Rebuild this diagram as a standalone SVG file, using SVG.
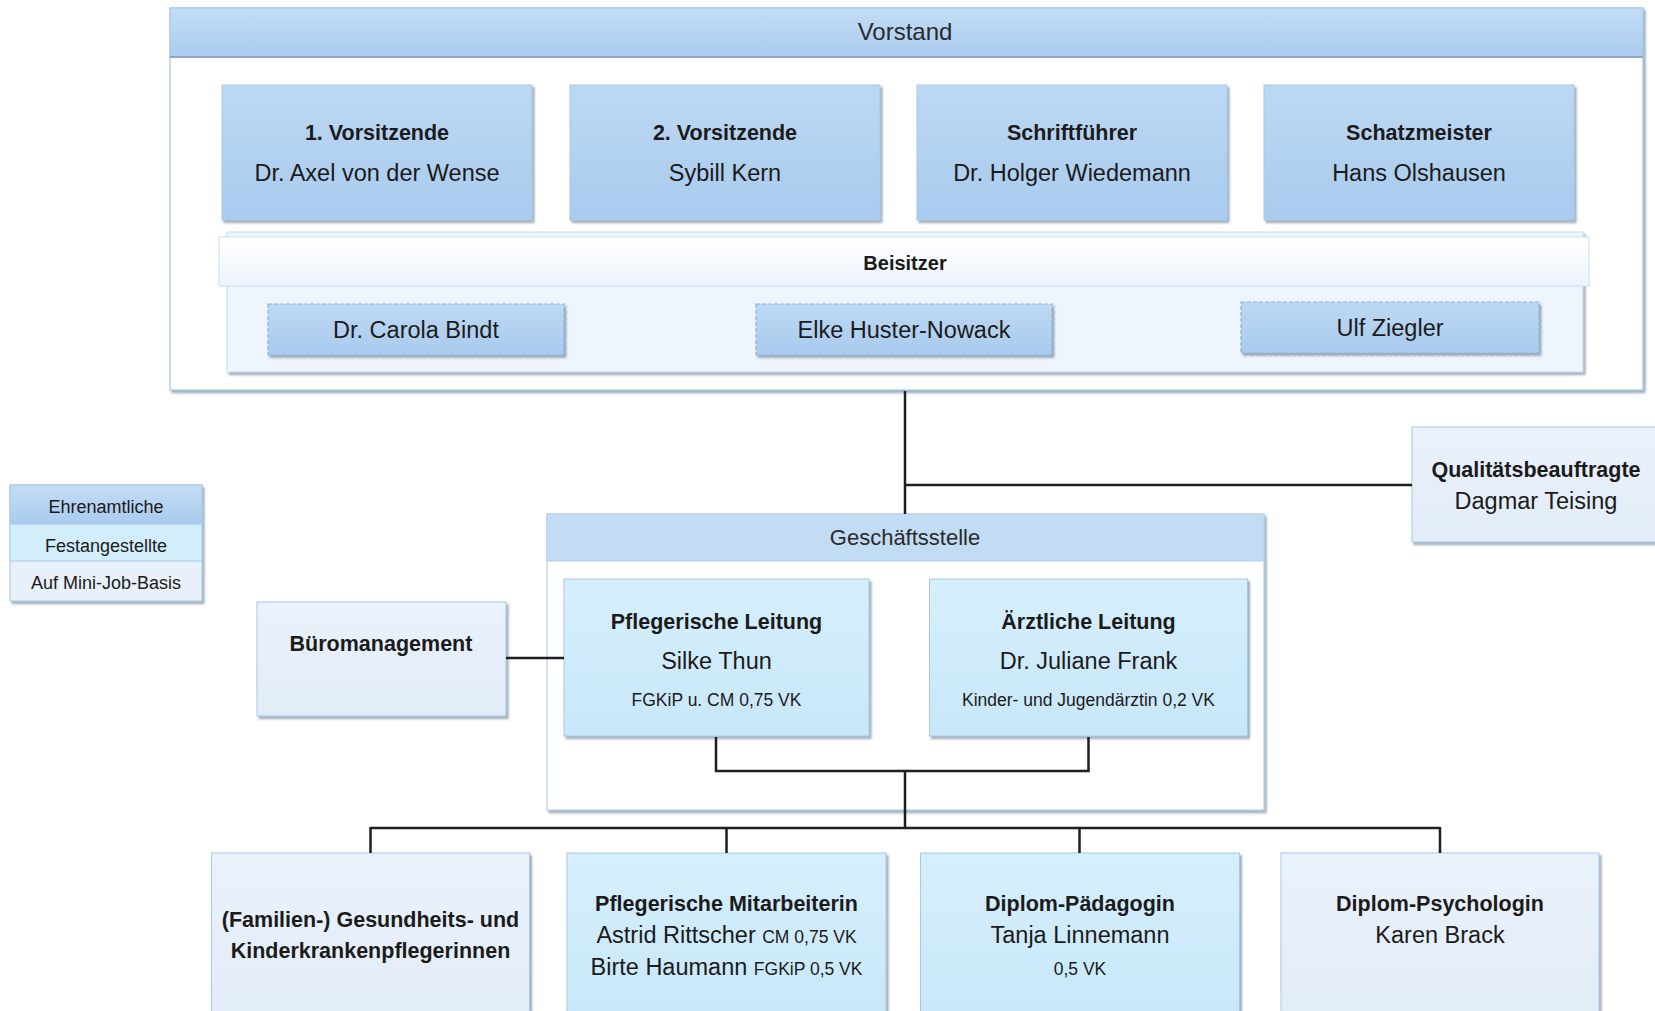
<svg xmlns="http://www.w3.org/2000/svg" width="1655" height="1011" viewBox="0 0 1655 1011">
<defs>
<linearGradient id="gBlue" x1="0" y1="0" x2="0" y2="1"><stop offset="0" stop-color="#bdd8f3"/><stop offset="1" stop-color="#a9cbee"/></linearGradient>
<linearGradient id="gCyan" x1="0" y1="0" x2="0" y2="1"><stop offset="0" stop-color="#d6effc"/><stop offset="1" stop-color="#c8e7f9"/></linearGradient>
<linearGradient id="gPale" x1="0" y1="0" x2="0" y2="1"><stop offset="0" stop-color="#eaf2fb"/><stop offset="1" stop-color="#e2ecf7"/></linearGradient>
<linearGradient id="gHdr" x1="0" y1="0" x2="0" y2="1"><stop offset="0" stop-color="#c4ddf5"/><stop offset="1" stop-color="#a9cbee"/></linearGradient>
<linearGradient id="gStrip" x1="0" y1="0" x2="0" y2="1"><stop offset="0" stop-color="#ffffff"/><stop offset="1" stop-color="#edf4fc"/></linearGradient>
<filter id="sh" x="-5%" y="-5%" width="110%" height="115%"><feDropShadow dx="2" dy="2.5" stdDeviation="0.8" flood-color="#4d6379" flood-opacity="0.55"/></filter>
<style>
.t{font-family:"Liberation Sans",Arial,sans-serif;fill:#1b1b1b;text-anchor:middle}
.b{font-weight:bold;font-size:21.5px}
.r{font-size:23.5px}
.s{font-size:17.5px}
.l{font-size:18px}
.h{font-size:24px;fill:#2a2a2a}
.bx{stroke:#a7c8ea;stroke-width:1}
.blue{fill:url(#gBlue)}
.cyan{fill:url(#gCyan)}
.pale{fill:url(#gPale)}
.dash{fill:url(#gBlue);stroke:#8fb2d8;stroke-width:1.2;stroke-dasharray:4 2}
.con{fill:none;stroke:#1f1f1f;stroke-width:2.5}
</style>
</defs>
<rect width="1655" height="1011" fill="#ffffff"/>

<g id="vorstand">
<rect x="170" y="8" width="1473" height="382" fill="#ffffff" stroke="#a3c6e9" stroke-width="1.2" filter="url(#sh)"/>
<rect x="170" y="8" width="1473" height="49" fill="url(#gHdr)" stroke="#a3c6e9" stroke-width="1"/>
<line x1="170" y1="57" x2="1643" y2="57" stroke="#7f98b0" stroke-width="1.5"/>
<text class="t h" x="905" y="40">Vorstand</text>
</g>

<g id="vorsitzende1">
<rect class="bx blue" x="222" y="85" width="310" height="135" filter="url(#sh)"/>
<text class="t b" x="377" y="140">1. Vorsitzende</text>
<text class="t r" x="377" y="181">Dr. Axel von der Wense</text>
</g>
<g id="vorsitzende2">
<rect class="bx blue" x="570" y="85" width="310" height="135" filter="url(#sh)"/>
<text class="t b" x="725" y="140">2. Vorsitzende</text>
<text class="t r" x="725" y="181">Sybill Kern</text>
</g>
<g id="schriftfuehrer">
<rect class="bx blue" x="917" y="85" width="310" height="135" filter="url(#sh)"/>
<text class="t b" x="1072" y="140">Schriftführer</text>
<text class="t r" x="1072" y="181">Dr. Holger Wiedemann</text>
</g>
<g id="schatzmeister">
<rect class="bx blue" x="1264" y="85" width="310" height="135" filter="url(#sh)"/>
<text class="t b" x="1419" y="140">Schatzmeister</text>
<text class="t r" x="1419" y="181">Hans Olshausen</text>
</g>

<g id="beisitzer">
<rect x="227" y="232" width="1356" height="140" fill="#eef5fd" stroke="#c4daf2" stroke-width="1" filter="url(#sh)"/>
<rect x="219" y="237" width="1370" height="49" fill="url(#gStrip)" stroke="#c8ddf3" stroke-width="1"/>
<text class="t" x="905" y="270" style="font-weight:bold;font-size:20px">Beisitzer</text>
</g>
<g id="bindt">
<rect class="dash" x="268" y="304" width="296" height="51" filter="url(#sh)"/>
<text class="t r" x="416" y="338">Dr. Carola Bindt</text>
</g>
<g id="huster">
<rect class="dash" x="756" y="304" width="296" height="51" filter="url(#sh)"/>
<text class="t r" x="904" y="338">Elke Huster-Nowack</text>
</g>
<g id="ziegler">
<rect class="dash" x="1241" y="302" width="298" height="51" filter="url(#sh)"/>
<text class="t r" x="1390" y="336">Ulf Ziegler</text>
</g>

<g id="qualitaet">
<rect class="bx pale" x="1412" y="427" width="250" height="115" filter="url(#sh)"/>
<text class="t b" x="1536" y="477">Qualitätsbeauftragte</text>
<text class="t r" x="1536" y="509">Dagmar Teising</text>
</g>

<g id="legende">
<rect x="10" y="485" width="192" height="116" fill="#e8f0f9" stroke="#a7c8ea" stroke-width="1" filter="url(#sh)"/>
<rect x="10" y="485" width="192" height="39" fill="url(#gHdr)" stroke="#a7c8ea" stroke-width="1"/>
<rect x="10" y="524" width="192" height="37" fill="#d3eefb" stroke="#a7c8ea" stroke-width="1"/>
<text class="t l" x="106" y="513">Ehrenamtliche</text>
<text class="t l" x="106" y="552">Festangestellte</text>
<text class="t l" x="106" y="589">Auf Mini-Job-Basis</text>
</g>

<g id="bueromanagement">
<rect class="bx pale" x="257" y="602" width="249" height="114" filter="url(#sh)"/>
<text class="t b" x="381" y="651">Büromanagement</text>
</g>

<g id="geschaeftsstelle">
<rect x="547" y="514" width="717" height="296" fill="#ffffff" stroke="#b6d1ec" stroke-width="1.2" filter="url(#sh)"/>
<rect x="547" y="514" width="717" height="47" fill="#c2dcf4" stroke="#b6d1ec" stroke-width="1"/>
<text class="t" x="905" y="545" style="font-size:22px;fill:#2a2a2a">Geschäftsstelle</text>
</g>
<g id="pflegeleitung">
<rect class="bx cyan" x="564" y="579" width="305" height="157" filter="url(#sh)"/>
<text class="t b" x="716.5" y="629">Pflegerische Leitung</text>
<text class="t r" x="716.5" y="669">Silke Thun</text>
<text class="t s" x="716.5" y="706">FGKiP u. CM 0,75 VK</text>
</g>
<g id="aerztlicheleitung">
<rect class="bx cyan" x="929.5" y="579" width="318" height="157" filter="url(#sh)"/>
<text class="t b" x="1088.5" y="629">Ärztliche Leitung</text>
<text class="t r" x="1088.5" y="669">Dr. Juliane Frank</text>
<text class="t s" x="1088.5" y="706">Kinder- und Jugendärztin 0,2 VK</text>
</g>

<g id="pflegerinnen">
<rect class="bx pale" x="211.5" y="853" width="318" height="170" filter="url(#sh)"/>
<text class="t b" x="370.5" y="927">(Familien-) Gesundheits- und</text>
<text class="t b" x="370.5" y="958">Kinderkrankenpflegerinnen</text>
</g>
<g id="pflegemitarbeiterin">
<rect class="bx cyan" x="567" y="853" width="319" height="170" filter="url(#sh)"/>
<text class="t b" x="726.5" y="911">Pflegerische Mitarbeiterin</text>
<text class="t r" x="726.5" y="943">Astrid Rittscher <tspan class="s">CM 0,75 VK</tspan></text>
<text class="t r" x="726.5" y="975">Birte Haumann <tspan class="s">FGKiP 0,5 VK</tspan></text>
</g>
<g id="paedagogin">
<rect class="bx cyan" x="920.5" y="853" width="319" height="170" filter="url(#sh)"/>
<text class="t b" x="1080" y="911">Diplom-Pädagogin</text>
<text class="t r" x="1080" y="943">Tanja Linnemann</text>
<text class="t s" x="1080" y="975">0,5 VK</text>
</g>
<g id="psychologin">
<rect class="bx pale" x="1281" y="853" width="318" height="170" filter="url(#sh)"/>
<text class="t b" x="1440" y="911">Diplom-Psychologin</text>
<text class="t r" x="1440" y="943">Karen Brack</text>
</g>

<g id="connectors">
<path class="con" d="M905,391 V514"/>
<path class="con" d="M905,485 H1412"/>
<path class="con" d="M506,658 H564"/>
<path class="con" d="M716,737 V771 H1088.5 V737"/>
<path class="con" d="M905,771 V828"/>
<path class="con" d="M370.5,828 H1440"/>
<path class="con" d="M370.5,827 V853 M726.5,827 V853 M1079.5,827 V853 M1440,827 V853"/>
</g>
</svg>
